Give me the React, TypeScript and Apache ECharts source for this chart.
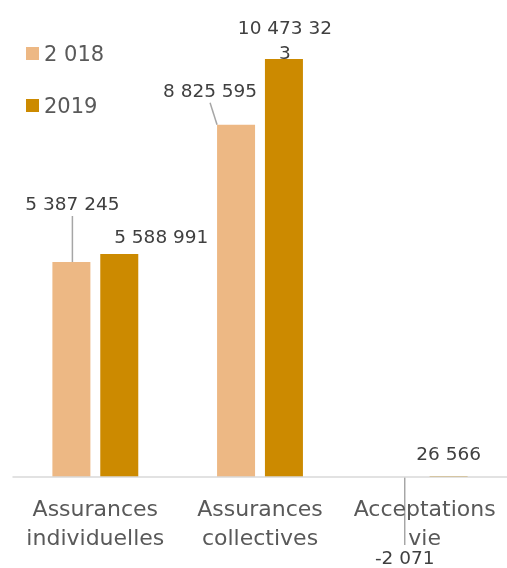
import React, { useEffect, useRef } from "react";
import * as echarts from "echarts";

const categories = ["Assurances individuelles", "Assurances collectives", "Acceptations vie"];
const seriesNames = ["2 018", "2019"];
const values2018 = [5387245, 8825595, -2071];
const values2019 = [5588991, 10473323, 26566];

const COLORS = ["#EDB884", "#CC8A00"];
const FONT = "'DejaVu Sans', sans-serif";

// label offsets [dx, dy, showLine] per series / data index (layout only)
const LABEL_LAYOUT: Record<number, Array<[number, number, boolean]>> = {
  0: [
    [1, -41, true],
    [-26, -17, true],
    [4, 98, true],
  ],
  1: [
    [42, 0, false],
    [1, 11, false],
    [0, -5, false],
  ],
};

const fmt = (v: number) => {
  const s = Math.abs(v).toString().replace(/\B(?=(\d{3})+(?!\d))/g, " ");
  return (v < 0 ? "-" : "") + s;
};

export default function App() {
  const ref = useRef<HTMLDivElement>(null);
  useEffect(() => {
    if (!ref.current) return;
    const chart = echarts.init(ref.current, null, { renderer: "svg" });
    const mkSeries = (idx: number, vals: number[]) => ({
      name: seriesNames[idx],
      type: "bar",
      barWidth: 38,
      barGap: "26%",
      itemStyle: { color: COLORS[idx] },
      data: vals.map((v, i) => ({
        value: v,
        labelLine: { show: LABEL_LAYOUT[idx][i][2] },
        label:
          idx === 1 && i === 1
            ? { width: 98, overflow: "breakAll" }
            : undefined,
      })),
      label: {
        show: true,
        position: "top",
        distance: 5,
        color: "#404040",
        fontSize: 18.5,
        fontFamily: FONT,
        lineHeight: 25,
        formatter: (p: any) => fmt(p.value),
      },
      labelLine: {
        show: true,
        lineStyle: { color: "#A6A6A6", width: 1.5 },
      },
      labelLayout: (p: any) => {
        const o = LABEL_LAYOUT[p.seriesIndex][p.dataIndex];
        return { dx: o[0], dy: o[1] };
      },
    });
    chart.setOption({
      animation: false,
      textStyle: { fontFamily: FONT },
      legend: {
        orient: "vertical",
        left: 21,
        top: 38,
        icon: "rect",
        itemWidth: 13,
        itemHeight: 13,
        itemGap: 31,
        textStyle: { color: "#595959", fontSize: 21, fontFamily: FONT },
        data: seriesNames,
      },
      grid: { left: 13, right: 0, top: 38, bottom: 91, containLabel: false },
      xAxis: {
        type: "category",
        data: categories,
        z: 3,
        axisLine: { show: true, lineStyle: { color: "#D9D9D9", width: 1.5 } },
        axisTick: { show: false },
        axisLabel: {
          interval: 0,
          color: "#595959",
          fontSize: 22,
          fontFamily: FONT,
          lineHeight: 29,
          margin: 17,
          formatter: (v: string) => v.replace(" ", "\n"),
        },
      },
      yAxis: {
        type: "value",
        min: 0,
        max: 11000000,
        show: false,
        splitLine: { show: false },
      },
      series: [mkSeries(0, values2018), mkSeries(1, values2019)],
    });
    return () => chart.dispose();
  }, []);
  return (
    <div
      ref={ref}
      style={{ position: "fixed", left: 0, top: 0, width: 507, height: 568 }}
    />
  );
}
